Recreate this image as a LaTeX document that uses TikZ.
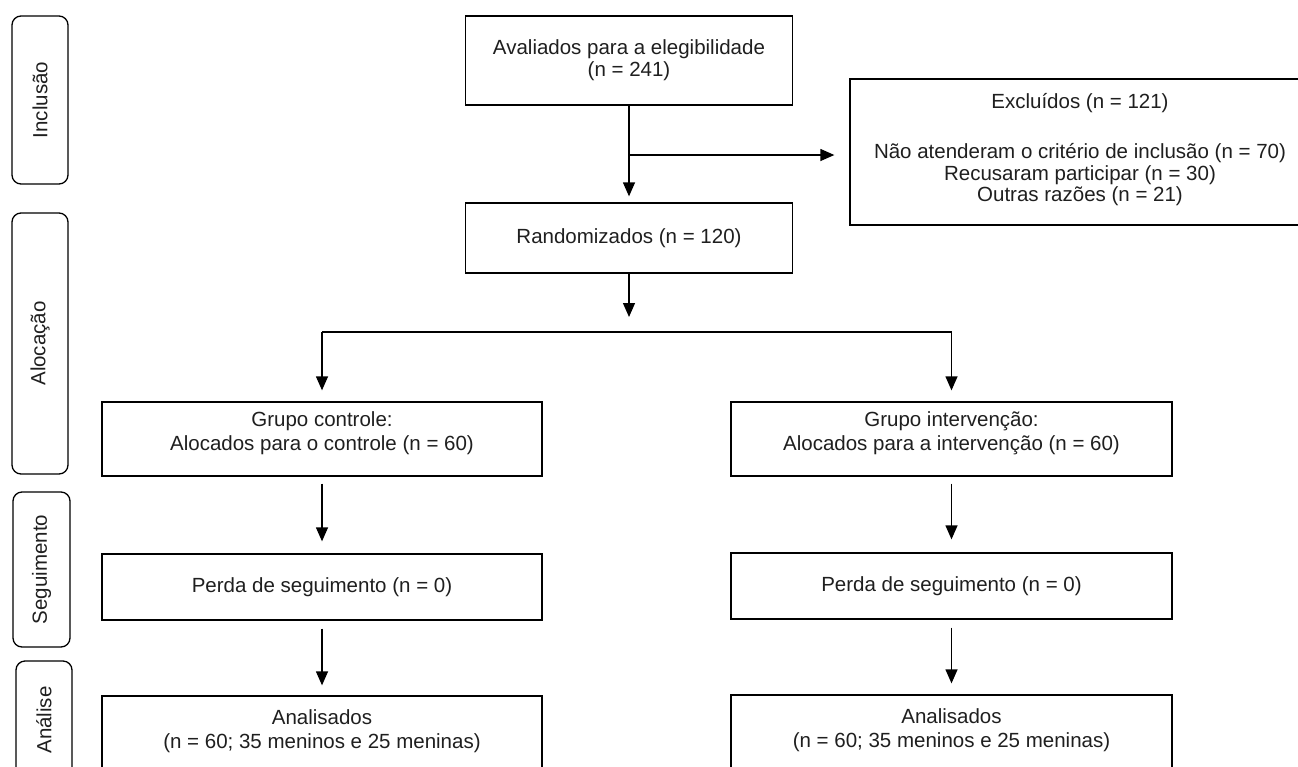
\documentclass[tikz,border=0pt]{standalone}
\usepackage{fontspec}
\setmainfont{Liberation Sans}
\usetikzlibrary{arrows.meta}
\begin{document}
\begin{tikzpicture}[x=1pt,y=-1pt,
  box/.style={draw=black, line width=1.3pt, rectangle, inner sep=0pt},
  lab/.style={draw=black, line width=1.3pt, rectangle, rounded corners=9pt, inner sep=0pt},
  txt/.style={align=center, font=\fontsize{20.5}{23.5}\selectfont, inner sep=0pt, text=black!88},
  arr/.style={-{Triangle[length=14pt,width=12pt]}, line width=1.3pt},
  ln/.style={line width=1.3pt}]
\clip (0,0) rectangle (1298,766);
\fill[white] (0,0) rectangle (1298,766);

% phase labels
\node[lab, minimum width=56, minimum height=168] (l1) at (40,100) {};
\node[txt, rotate=90] (l1t) at (l1.center) {Inclusão};
\node[lab, minimum width=56, minimum height=261] (l2) at (40,343.5) {};
\node[txt, rotate=90] (l2t) at (l2.center) {Alocação};
\node[lab, minimum width=57, minimum height=155] (l3) at (41.5,569.5) {};
\node[txt, rotate=90] (l3t) at (l3.center) {Seguimento};
\node[lab, minimum width=56, minimum height=118] (l4) at (44,720) {};
\node[txt, rotate=90] (l4t) at (l4.center) {Análise};

% main boxes
\node[box, minimum width=327, minimum height=89] (av) at (629,60.5) {};
\node[txt, font=\fontsize{20.5}{22}\selectfont] (avt) at (av.center) {Avaliados para a elegibilidade\\(n = 241)};

\node[box, minimum width=460, minimum height=146] (exc) at (1080,152) {};
\node[txt, font=\fontsize{20.5}{21.5}\selectfont] (exct) at (1080,150) {Excluídos (n = 121)\\[28.5pt]Não atenderam o critério de inclusão (n = 70)\\Recusaram participar (n = 30)\\Outras razões (n = 21)};

\node[box, minimum width=327, minimum height=70] (rand) at (629,238) {};
\node[txt] (randt) at (rand.center) {Randomizados (n = 120)};

\node[box, minimum width=440, minimum height=74] (gc) at (322,439) {};
\node[txt, font=\fontsize{20.5}{24.5}\selectfont] (gct) at (322,433) {Grupo controle:\\Alocados para o controle (n = 60)};
\node[box, minimum width=441, minimum height=74] (gi) at (951.5,439) {};
\node[txt, font=\fontsize{20.5}{24.5}\selectfont] (git) at (951.5,433) {Grupo intervenção:\\Alocados para a intervenção (n = 60)};

\node[box, minimum width=440, minimum height=66] (pc) at (322,587) {};
\node[txt] (pct) at (pc.center) {Perda de seguimento (n = 0)};
\node[box, minimum width=441, minimum height=66] (pi) at (951.5,586) {};
\node[txt] (pit) at (pi.center) {Perda de seguimento (n = 0)};

\node[box, minimum width=440, minimum height=90] (ac) at (322,741) {};
\node[txt, font=\fontsize{20.5}{24}\selectfont] (act) at (322,731) {Analisados\\(n = 60; 35 meninos e 25 meninas)};
\node[box, minimum width=441, minimum height=90] (ai) at (951.5,740) {};
\node[txt, font=\fontsize{20.5}{24}\selectfont] (ait) at (951.5,730) {Analisados\\(n = 60; 35 meninos e 25 meninas)};

% connectors
\coordinate (br) at (629,155);
\draw[arr, shorten >=15pt] (br) -- (br -| exc.west);
\draw[arr, shorten >=6pt] (av.south) -- (rand.north);
\coordinate (sp) at (629,317);
\draw[arr] (rand.south) -- (sp);
\coordinate (hl) at (322,332);
\coordinate (hr) at (951.5,332);
\draw[ln] (hl) -- (hr);
\draw[arr, shorten >=11pt] (hl) -- (gc.north);
\draw[arr, shorten >=11pt] (hr) -- (gi.north);
\draw[arr, shorten <=7pt, shorten >=12pt] (gc.south) -- (pc.north);
\draw[arr, shorten <=7pt, shorten >=13pt] (gi.south) -- (pi.north);
\draw[arr, shorten <=8pt, shorten >=10pt] (pc.south) -- (ac.north);
\draw[arr, shorten <=8pt, shorten >=11pt] (pi.south) -- (ai.north);
\end{tikzpicture}
\end{document}
